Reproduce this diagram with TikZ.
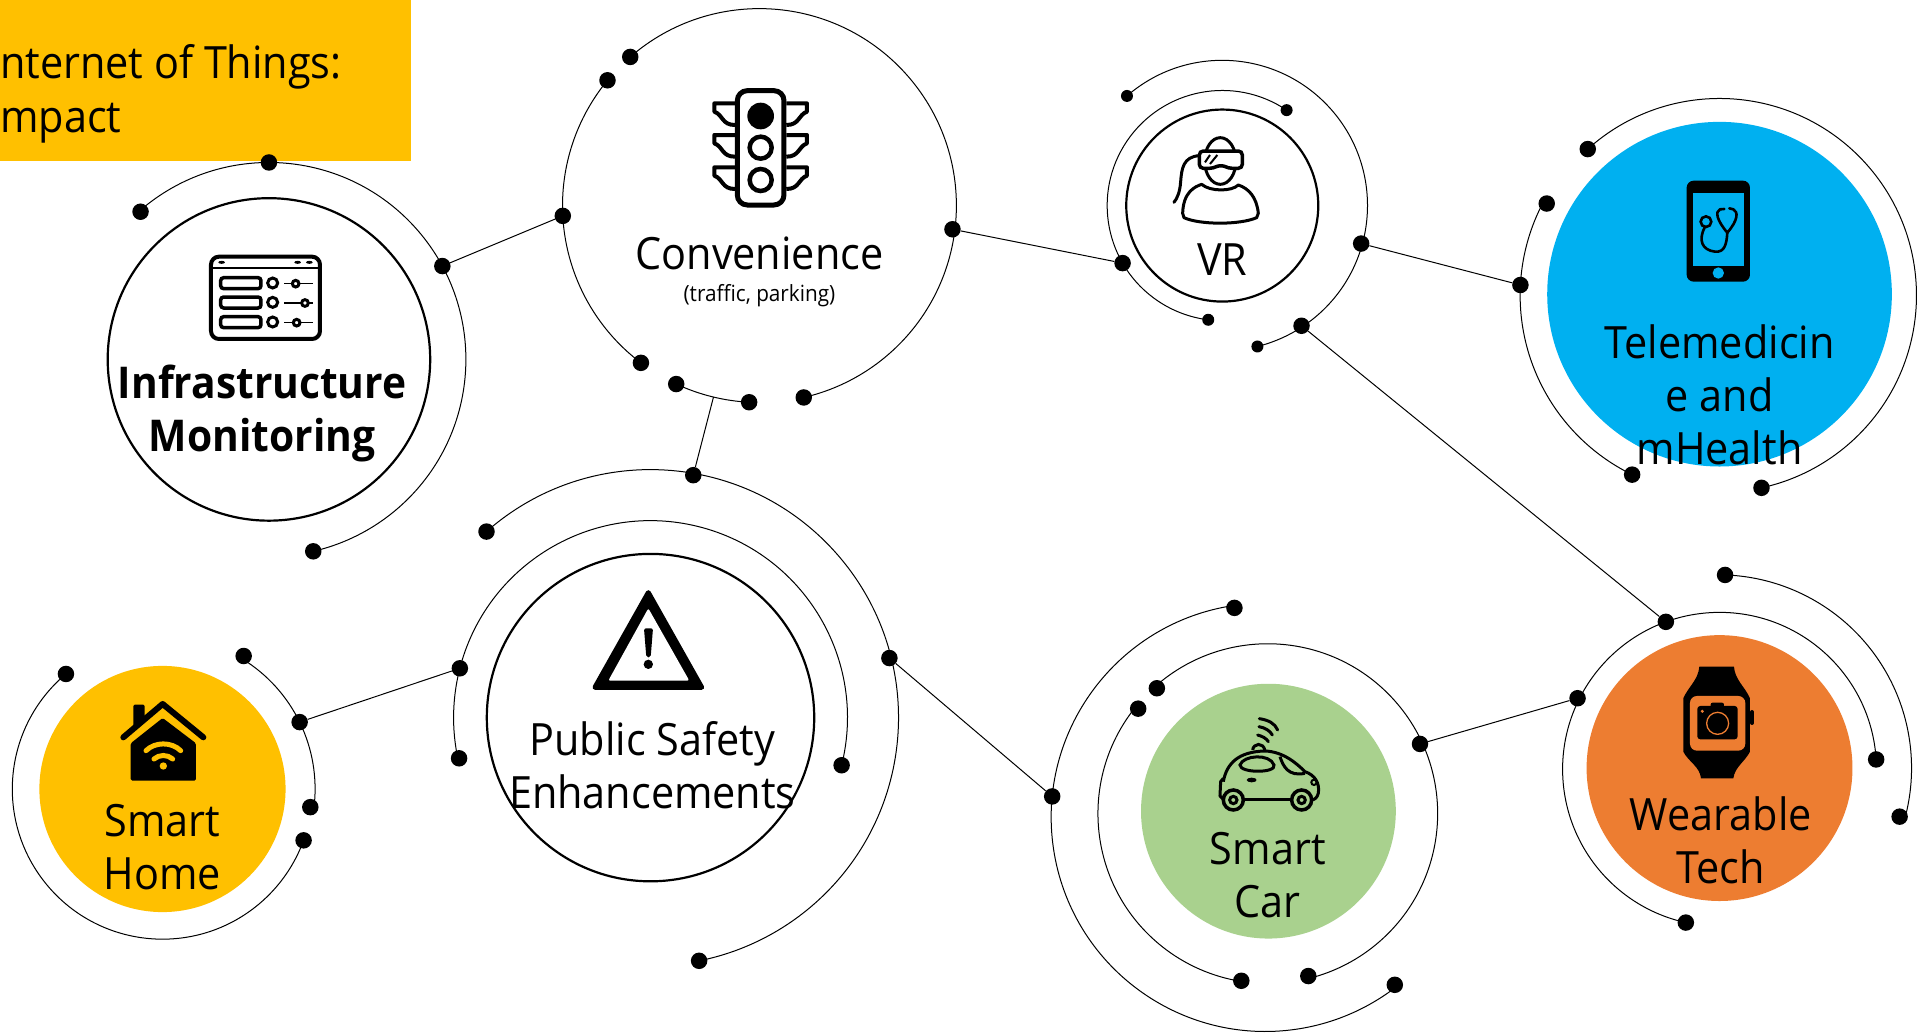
\documentclass[tikz,border=0pt]{standalone}
\usepackage{fontspec}
\setmainfont{Open Sans}[FakeStretch=0.93]
\usetikzlibrary{calc}
\definecolor{gold}{HTML}{FFC000}
\definecolor{skyb}{HTML}{00B0F0}
\definecolor{leaf}{HTML}{A9D18E}
\definecolor{tang}{HTML}{ED7D31}
\tikzset{
  disc/.style={circle,inner sep=0pt,minimum size=#1*2.4618pt},
  opendisc/.style={disc=#1,draw=black,line width=2.2pt,fill=white},
  ringline/.style={draw=black,line width=1pt},
  bigdot/.style={circle,fill=black,inner sep=0pt,minimum size=16.5pt},
  smalldot/.style={circle,fill=black,inner sep=0pt,minimum size=12pt},
  link/.style={draw=black,line width=1pt},
  lbl/.style={inner sep=0pt,align=center,font=\fontsize{44.5}{53}\selectfont},
  iconpos/.style 2 args={shift={({#1/1.2309},{-#2/1.2309})},x=0.33333pt,y=-0.33333pt},
}
\newcommand\ringarc[4]{\draw[ringline] ($(#1)+(#2:#4*1.2309pt)$) arc[start angle=#2,end angle=#3,radius=#4*1.2309pt];}
\newcommand\bdot[4]{\node[bigdot] (#1) at ($(#2)+(#3:#4*1.2309pt)$) {};}
\newcommand\sdot[4]{\node[smalldot] (#1) at ($(#2)+(#3:#4*1.2309pt)$) {};}
\begin{document}
\begin{tikzpicture}[x=1.2309pt,y=1.2309pt]
\useasboundingbox (0,0) rectangle (1568,-841);
\fill[white] (0,0) rectangle (1568,-841);
% title
\node[fill=gold,inner sep=0pt,minimum width=334*1.2309pt,minimum height=131*1.2309pt,anchor=north west] (title) at (0,0) {};
\node[lbl,anchor=west] (titleA) at (0,-54) {nternet of Things:};
\node[lbl,anchor=west] (titleB) at (0,-100) {mpact};
% discs and centres
\node[opendisc=131] (infra) at (218.5,-292) {};
\coordinate (conv) at (617,-167);
\node[opendisc=78] (vr) at (993,-167) {};
\node[disc=140,fill=skyb] (tele) at (1397,-239) {};
\coordinate (teleR) at (1397,-240);
\node[opendisc=133] (safe) at (528.5,-583) {};
\node[disc=100,fill=gold] (home) at (132,-641) {};
\node[disc=103.5,fill=leaf] (car) at (1030.5,-659) {};
\node[disc=108,fill=tang] (wear) at (1397,-624) {};
\coordinate (carR) at (1030,-661);
\coordinate (carO) at (1028,-664);
\coordinate (wearA) at (1397,-625);
\coordinate (wearB) at (1396,-624);
% rings
\ringarc{infra}{131}{-77}{160}
\ringarc{conv}{131}{-77}{160}
\ringarc{conv}{140.5}{233}{160}
\ringarc{conv}{245}{267}{160}
\ringarc{vr}{56}{263}{93.5}
\ringarc{vr}{131}{-76}{118}
\ringarc{teleR}{132}{-77.7}{160}
\ringarc{teleR}{152}{244}{162}
\ringarc{safe}{-14}{192}{160}
\ringarc{safe}{131.4}{-78.7}{201.5}
\ringarc{home}{130}{340}{122}
\ringarc{home}{58.6}{-7}{124}
\ringarc{carR}{131.5}{-76}{138}
\ringarc{carR}{141.5}{261}{138}
\ringarc{carO}{98.4}{307.7}{174}
\ringarc{wearA}{3.6}{257.6}{127.5}
\ringarc{wearB}{88}{-15}{157}
% dots
\bdot{i1}{infra}{131}{159}\bdot{i2}{infra}{90}{160}\bdot{i3}{infra}{28.3}{160}\bdot{i4}{infra}{-77}{160}
\bdot{c1}{conv}{131}{160}\bdot{c2}{conv}{-7}{158}\bdot{c3}{conv}{-77}{160}
\bdot{c4}{conv}{140.5}{160}\bdot{c5}{conv}{183}{160}\bdot{c6}{conv}{233}{160}
\bdot{c7}{conv}{245}{160}\bdot{c8}{conv}{267}{160}
\coordinate (c9) at ($(conv)+(256.5:160*1.2309pt)$);
\sdot{v1}{vr}{56}{93.5}\sdot{v2}{vr}{263}{93.5}\bdot{v3}{vr}{210}{93.5}
\sdot{v4}{vr}{131}{118}\sdot{v5}{vr}{-76}{118}\bdot{v6}{vr}{-15.3}{117}\bdot{v7}{vr}{-56.6}{117}
\bdot{t1}{teleR}{132}{160}\bdot{t2}{teleR}{-77.7}{160}
\bdot{t3}{teleR}{152}{159}\bdot{t4}{teleR}{244}{162}\bdot{t5}{teleR}{177}{162}
\bdot{s1}{safe}{-14}{160}\bdot{s2}{safe}{192}{159}\bdot{s3}{safe}{165.5}{160}
\bdot{s4}{safe}{131.4}{201.5}\bdot{s5}{safe}{-78.7}{201.5}\bdot{s6}{safe}{80}{200}\bdot{s7}{safe}{14}{200}
\bdot{h1}{home}{130}{122}\bdot{h2}{home}{-20}{122}\bdot{h3}{home}{58.6}{126.6}\bdot{h4}{home}{-7}{121}\bdot{h5}{home}{26}{124}
\bdot{r1}{carR}{131.5}{136}\bdot{r2}{carR}{-76}{136}\bdot{r3}{carR}{24.6}{136}
\bdot{r4}{carR}{141}{135.5}\bdot{r5}{carR}{261}{137.5}
\bdot{r6}{carO}{98.4}{172}\bdot{r7}{carO}{307.7}{172}\bdot{r8}{carO}{174.4}{174}
\bdot{w1}{wearA}{3.6}{127.5}\bdot{w2}{wearA}{257.6}{127.5}\bdot{w3}{wearA}{110}{127.5}\bdot{w4}{wearA}{153.4}{129}
\bdot{w5}{wearB}{88}{157}\bdot{w6}{wearB}{-15}{152.5}
% connectors
\draw[link] (i3) -- (c5);
\draw[link] (c2) -- (v3);
\draw[link] (v6) -- (t5);
\draw[link] (v7) -- (w3);
\draw[link] (c9) -- (s6);
\draw[link] (s3) -- (h5);
\draw[link] (s7) -- (r8);
\draw[link] (r3) -- (w4);
% traffic light
\begin{scope}[iconpos={680}{70}]
  \foreach \d in {0,95,192}{
    \draw[line width=4pt,line join=round] (165,100+\d) -- (103,100+\d) -- (103,125+\d) .. controls (130,135+\d) and (125,165+\d) .. (165,165+\d);
    \draw[line width=4pt,line join=round] (319,100+\d) -- (381,100+\d) -- (381,125+\d) .. controls (354,135+\d) and (359,165+\d) .. (319,165+\d);
  }
  \draw[line width=5pt,rounded corners=10pt,fill=white] (172,62) rectangle (312,405);
  \fill (242,138) circle[radius=40];
  \draw[line width=4.5pt] (242,233) circle[radius=33];
  \draw[line width=4.5pt] (242,330) circle[radius=33];
\end{scope}
% control panel
\begin{scope}[iconpos={200}{245}]
  \draw[line width=4pt,rounded corners=8pt] (33,35) rectangle (360,282);
  \draw[line width=2pt] (33,68) -- (360,68);
  \foreach \px in {65,293,328}{\fill (\px,52) ellipse[x radius=10,y radius=4.5];}
  \foreach \py/\kx in {98/287,156/315,215/290}{
    \draw[line width=3.5pt,rounded corners=3pt] (62,\py) rectangle (183,\py+33);
    \draw[line width=3pt] (218,\py+16) circle[radius=15];
    \draw[line width=1.6pt] (253,\py+18) -- (338,\py+18);
    \draw[line width=3pt,fill=white] (\kx,\py+18) circle[radius=10];
  }
\end{scope}
% VR user
\begin{scope}[iconpos={1160}{125}]
  \draw[line width=3pt] (181,108) ellipse[x radius=47,y radius=70];
  \draw[line width=3pt,line join=round,fill=white] (125,178) .. controls (105,185) and (70,200) .. (68,265) -- (72,278) .. controls (120,300) and (240,300) .. (290,278) -- (295,265) .. controls (290,215) and (265,190) .. (235,180) .. controls (215,200) and (150,200) .. (125,178) -- cycle;
  \draw[line width=3.5pt,rounded corners=4pt,fill=white] (118,78) -- (247,78) -- (247,130) -- (205,130) .. controls (190,122) and (175,122) .. (160,130) -- (118,130) -- cycle;
  \draw[line width=2pt] (135,112) -- (150,90) (150,117) -- (172,90);
  \draw[line width=3pt,line cap=round] (118,92) .. controls (70,95) and (65,130) .. (62,170) .. controls (60,200) and (52,220) .. (42,232);
\end{scope}
% phone
\begin{scope}[iconpos={1670}{170}]
  \fill[rounded corners=7pt] (50,32) rectangle (240,335);
  \fill[skyb] (68,68) rectangle (222,288);
  \fill[skyb] (145,309) circle[radius=17];
  \draw[line width=2.6pt] (108,155) circle[radius=16];
  \draw[line width=2.6pt,line cap=round] (104,172) .. controls (85,210) and (95,240) .. (135,245) .. controls (165,248) and (170,220) .. (172,188);
  \draw[line width=2.6pt,line cap=round,line join=round] (163,117) -- (150,118) .. controls (135,125) and (140,150) .. (172,188) .. controls (205,150) and (205,125) .. (190,118) -- (178,115);
\end{scope}
% warning triangle
\begin{scope}[iconpos={580}{580}]
  \draw[line width=5pt,line join=round,fill=black] (205,38) -- (45,322) -- (365,322) -- cycle;
  \fill[white,rounded corners=2pt] (205,85) -- (85,302) -- (328,302) -- cycle;
  \fill[rounded corners=2pt] (192,145) -- (219,145) -- (212,232) -- (199,232) -- cycle;
  \fill (205,253) circle[radius=14];
\end{scope}
% house
\begin{scope}[iconpos={110}{690}]
  \fill[rounded corners=1.5pt] (70,115) -- (70,44) -- (104,44) -- (104,90) -- cycle;
  \draw[line width=6pt,line cap=round,line join=round] (40,142) -- (158,42) -- (280,142);
  \fill[rounded corners=1.5pt] (62,160) -- (158,84) -- (258,160) -- (258,272) -- (62,272) -- cycle;
  \draw[gold,line width=5pt,line cap=round] (108,182) .. controls (135,155) and (185,155) .. (212,182);
  \draw[gold,line width=5pt,line cap=round] (132,207) .. controls (148,193) and (172,193) .. (188,207);
  \fill[gold] (160,228) circle[radius=11];
\end{scope}
% car
\begin{scope}[iconpos={1210}{710}]
  \draw[line width=3pt,line cap=round] (148,26) .. controls (175,30) and (195,40) .. (203,60);
  \draw[line width=3pt,line cap=round] (147,50) .. controls (165,53) and (180,62) .. (187,75);
  \draw[line width=3pt,line cap=round] (143,75) .. controls (155,78) and (170,85) .. (175,95);
  \draw[line width=3pt] (128,120) .. controls (130,100) and (160,95) .. (165,122);
  \draw[line width=3pt,line join=round] (40,215) .. controls (50,160) and (85,125) .. (165,123) .. controls (220,125) and (260,160) .. (285,185) .. controls (315,195) and (330,220) .. (325,250) .. controls (322,265) and (310,270) .. (305,270);
  \draw[line width=3pt,line join=round] (40,205) -- (32,215) -- (30,258) -- (42,270);
  \draw[line width=3pt] (100,270) -- (245,270);
  \draw[line width=3pt] (90,165) .. controls (100,135) and (180,130) .. (192,165) .. controls (200,190) and (90,190) .. (90,165) -- cycle;
  \draw[line width=3pt] (210,140) .. controls (220,170) and (235,200) .. (285,190);
  \fill (125,210) ellipse[x radius=15,y radius=7];
  \draw[line width=2pt] (312,217) circle[radius=8];
  \foreach \wx in {70,275}{
    \draw[line width=3.5pt,fill=leaf] (\wx,270) circle[radius=30];
    \draw[line width=3pt] (\wx,270) circle[radius=11];
  }
\end{scope}
% watch
\begin{scope}[iconpos={1670}{660}]
  \fill (88,20) -- (192,20) .. controls (195,60) and (225,80) .. (240,115) -- (240,275) .. controls (225,305) and (195,320) .. (190,355) -- (93,355) .. controls (90,320) and (55,305) .. (40,275) -- (40,115) .. controls (55,80) and (85,60) .. (88,20) -- cycle;
  \fill[rounded corners=2pt] (240,150) rectangle (252,195);
  \fill[tang,rounded corners=7pt] (60,108) rectangle (226,272);
  \fill[rounded corners=3pt] (82,138) rectangle (203,238);
  \fill[rounded corners=2pt] (122,128) rectangle (162,145);
  \draw[tang,line width=1.3pt] (143,190) circle[radius=33];
  \fill[tang] (97,154) circle[radius=5];
\end{scope}
% labels
\node[lbl,font=\fontsize{43.8}{53}\selectfont\bfseries] (infraT) at (213,-336) {Infrastructure\\Monitoring};
\node[lbl] (convT) at (617,-206) {Convenience};
\node[inner sep=0pt,font=\fontsize{22.3}{26}\selectfont] (convS) at (617,-240) {(traffic, parking)};
\node[lbl] (vrT) at (993,-211) {VR};
\node[lbl] (teleT) at (1397,-321) {Telemedicin\\e and\\mHealth};
\node[lbl] (safeT) at (530,-622) {Public Safety\\Enhancements};
\node[lbl] (homeT) at (132,-688) {Smart\\Home};
\node[lbl] (carT) at (1030,-711) {Smart\\Car};
\node[lbl] (wearT) at (1398,-682.5) {Wearable\\Tech};
\end{tikzpicture}
\end{document}
